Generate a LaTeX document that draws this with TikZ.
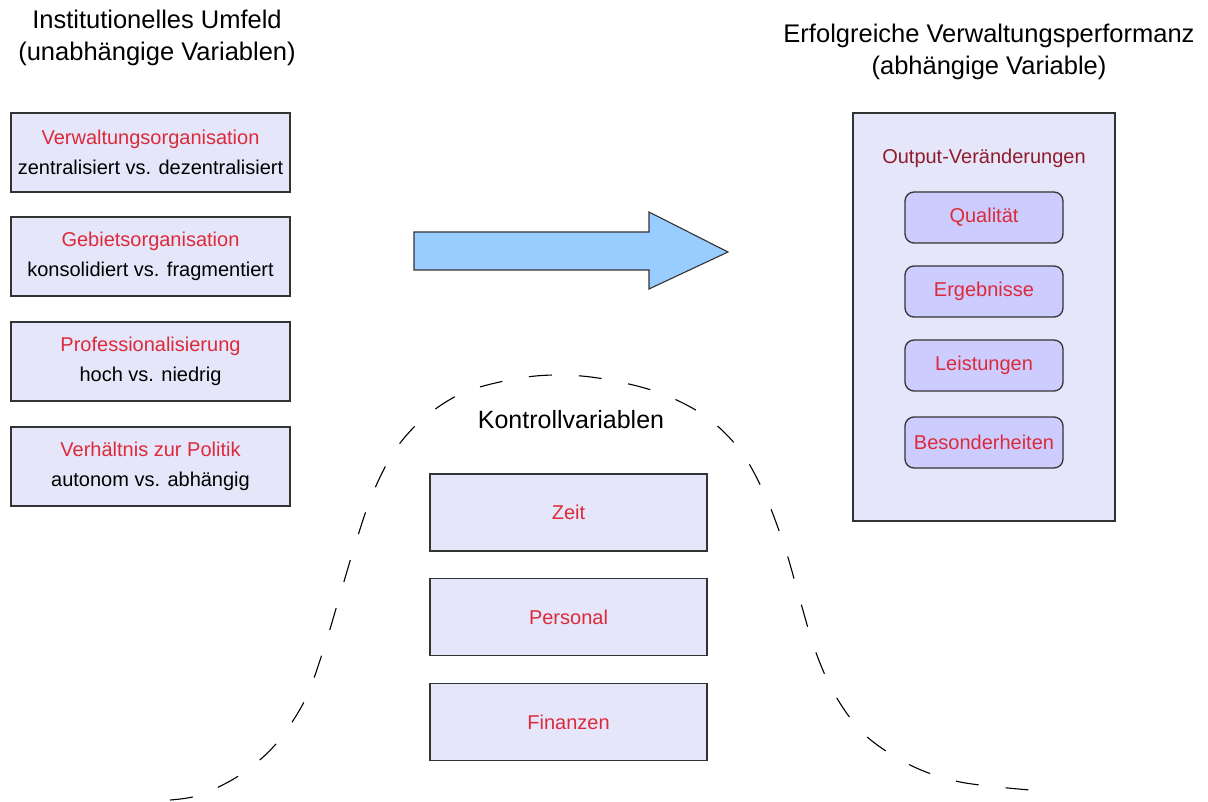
\documentclass[tikz,border=0pt]{standalone}
\usepackage{fontspec}
\setmainfont{Liberation Sans}
\definecolor{boxfill}{HTML}{E6E6FA}
\definecolor{innerfill}{HTML}{CCCCFF}
\definecolor{redtext}{HTML}{DC2A3A}
\definecolor{darkred}{HTML}{8E1C2C}
\definecolor{arrowfill}{HTML}{99CCFF}
\definecolor{edgegray}{HTML}{333333}
\tikzset{
  varbox/.style={shape=rectangle,draw=edgegray,line width=1.3pt,fill=boxfill,
    minimum width=279pt,minimum height=79pt,inner sep=0pt,align=center,
    font=\fontsize{20}{30}\selectfont},
  outbox/.style={shape=rectangle,rounded corners=9pt,draw=edgegray,line width=1.3pt,
    fill=innerfill,minimum width=158pt,minimum height=51pt,inner sep=0pt,
    text=redtext,font=\fontsize{20}{24}\selectfont},
  titletext/.style={align=center,font=\fontsize{25.5}{32}\selectfont}
}
\begin{document}
\begin{tikzpicture}[x=1pt,y=-1pt]
    \useasboundingbox (0,0) rectangle (1208,802);
    % Titel
    \node[titletext] (ltitle) at (157,38) {Institutionelles Umfeld\\(unabhängige Variablen)};
    \node[titletext] (rtitle) at (989,52) {Erfolgreiche Verwaltungsperformanz\\(abhängige Variable)};
    % unabhaengige Variablen
    \node[varbox] (V) at (150.5,152.5) {\textcolor{redtext}{Verwaltungsorganisation}\\zentralisiert vs. dezentralisiert};
    \node[varbox] (G) at (150.5,256.5) {\textcolor{redtext}{Gebietsorganisation}\\konsolidiert vs. fragmentiert};
    \node[varbox] (P) at (150.5,361.5) {\textcolor{redtext}{Professionalisierung}\\hoch vs. niedrig};
    \node[varbox] (R) at (150.5,466.5) {\textcolor{redtext}{Verhältnis zur Politik}\\autonom vs. abhängig};
    % Pfeil
    \draw[draw=edgegray,line width=1.1pt,fill=arrowfill,line join=miter]
        (414,232) -- (649,232) -- (649,212) -- (728,252) -- (649,289) -- (649,270) -- (414,270) -- cycle;
    % abhaengige Variable
    \node[varbox,minimum width=262pt,minimum height=408pt] (O) at (984,317) {};
    \node[text=darkred,font=\fontsize{20}{24}\selectfont] (Olabel) at (984,158) {Output-Veränderungen};
    \node[outbox] (Q) at (984,217.5) {Qualität};
    \node[outbox] (E) at (984,291.5) {Ergebnisse};
    \node[outbox] (L) at (984,365.5) {Leistungen};
    \node[outbox] (B) at (984,442.5) {Besonderheiten};
    % Kontrollvariablen
    \draw[dash pattern=on 23pt off 27pt,line width=1.1pt] plot[smooth,tension=0.55] coordinates
        {(170,800) (200,795) (240,775) (275,745) (305,700) (325,645) (340,595) (355,545)
         (372,495) (395,450) (425,417) (465,392) (520,378) (565,375) (610,380) (660,393)
         (705,416) (740,450) (765,495) (785,548) (800,600) (815,650) (835,695) (865,735)
         (910,765) (960,782) (1030,790)};
    \node[font=\fontsize{25}{30}\selectfont] (K) at (571,420) {Kontrollvariablen};
    \node[varbox,minimum width=277pt,minimum height=77pt,text=redtext] (Z) at (568.5,512.5) {Zeit};
    \node[varbox,minimum width=277pt,minimum height=77pt,text=redtext] (Pe) at (568.5,617) {Personal};
    \node[varbox,minimum width=277pt,minimum height=77pt,text=redtext] (F) at (568.5,722) {Finanzen};
\end{tikzpicture}
\end{document}
